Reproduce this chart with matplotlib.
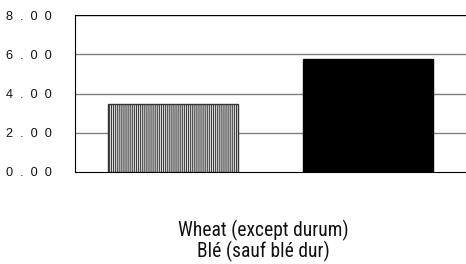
import matplotlib
matplotlib.use("Agg")
import matplotlib.pyplot as plt
import matplotlib.font_manager as fm

categories = ["Wheat (except durum)\nBlé (sauf blé dur)"]
series_values = [3.45, 5.75]
yticks = [0, 2, 4, 6, 8]
ytick_labels = ["0.00", "2.00", "4.00", "6.00", "8.00"]

available = {f.name for f in fm.fontManager.ttflist}
narrow = 'Liberation Sans Narrow' if 'Liberation Sans Narrow' in available else 'Roboto Condensed'

plt.rcParams['hatch.color'] = '#9a9a9a'
plt.rcParams['hatch.linewidth'] = 0.7

fig = plt.figure(figsize=(4.66, 2.64), dpi=100)
ax = fig.add_axes([75/466, 1-172/264, 1-75/466, (172-15)/264])

ax.bar([0], [series_values[0]], width=0.665, facecolor='#dcdcdc', edgecolor='#333333',
       hatch='||||||||', linewidth=1.0, zorder=3)
ax.bar([1], [series_values[1]], width=0.665, facecolor='black', edgecolor='black',
       linewidth=1.0, zorder=3)

ax.set_xlim(-0.5, 1.5)
ax.set_ylim(0, 8)
ax.set_yticks(yticks)
spaced = ["  ".join(list(s)) for s in ytick_labels]
ax.set_yticklabels(spaced, fontfamily='Liberation Sans', fontsize=9.2, color='#111111')
ax.tick_params(axis='y', length=0, pad=17)
ax.set_xticks([])
for y in [2, 4, 6]:
    ax.axhline(y, color='#808080', linewidth=1.0, zorder=1)
ax.axhline(8, color='black', linewidth=1.0, zorder=1)
for s in ['right', 'top']:
    ax.spines[s].set_visible(False)
ax.spines['left'].set_color('black')
ax.spines['bottom'].set_color('black')

t = fig.text(263/466, 1-241/264, categories[0], ha='center', va='center',
             fontfamily=narrow, fontsize=11, linespacing=1.05, color='#111111')
fig.canvas.draw()
r = fig.canvas.get_renderer()
w = t.get_window_extent(r).width
t.set_fontsize(11 * 170.0 / w)

fig.savefig("out.png", dpi=100, facecolor='white')
